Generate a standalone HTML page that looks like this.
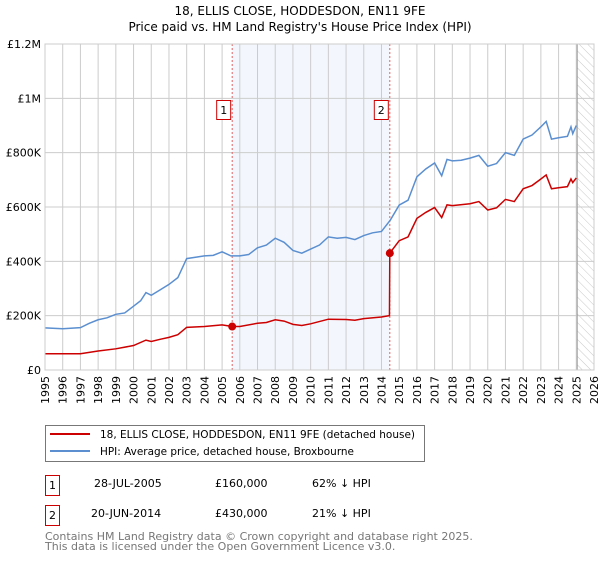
<!DOCTYPE html>
<html><head><meta charset="utf-8"><style>
body{margin:0;background:#fff;font-family:"DejaVu Sans","Liberation Sans",sans-serif;}
svg text{font-family:"DejaVu Sans","Liberation Sans",sans-serif;}
</style></head><body>
<svg id="chart" width="600" height="560" xmlns="http://www.w3.org/2000/svg">
<defs><pattern id="hatch" patternUnits="userSpaceOnUse" width="6" height="6" patternTransform="rotate(-45)"><line x1="0" y1="0" x2="0" y2="6" stroke="#bbb" stroke-width="0.8"/></pattern></defs>
<text x="300" y="15" text-anchor="middle" font-size="12">18, ELLIS CLOSE, HODDESDON, EN11 9FE</text>
<text x="300" y="31" text-anchor="middle" font-size="12">Price paid vs. HM Land Registry's House Price Index (HPI)</text>
<g id="plot"></g>
<rect x="45.5" y="425.5" width="379" height="36" fill="#fff" stroke="#777"/>
<line x1="50" y1="434" x2="90" y2="434" stroke="#cc0000" stroke-width="2"/>
<text x="100" y="438" font-size="11" textLength="315" lengthAdjust="spacingAndGlyphs">18, ELLIS CLOSE, HODDESDON, EN11 9FE (detached house)</text>
<line x1="50" y1="451" x2="90" y2="451" stroke="#5b8fd0" stroke-width="2"/>
<text x="100" y="455" font-size="11" textLength="254" lengthAdjust="spacingAndGlyphs">HPI: Average price, detached house, Broxbourne</text>
<g font-size="11">
<rect x="45.5" y="475.5" width="14" height="20" fill="#fff" stroke="#cc0000"/><text x="52.5" y="489" text-anchor="middle">1</text>
<text x="94" y="487">28-JUL-2005</text><text x="215" y="487">£160,000</text><text x="312" y="487">62% ↓ HPI</text></g>
<g font-size="11">
<rect x="45.5" y="505.5" width="14" height="20" fill="#fff" stroke="#cc0000"/><text x="52.5" y="519" text-anchor="middle">2</text>
<text x="91" y="517">20-JUN-2014</text><text x="215" y="517">£430,000</text><text x="312" y="517">21% ↓ HPI</text></g>
<text x="45" y="540" font-size="11" fill="#777">Contains HM Land Registry data © Crown copyright and database right 2025.</text>
<text x="45" y="550" font-size="11" fill="#777">This data is licensed under the Open Government Licence v3.0.</text>
</svg>
<script>
const hpiYears=[1995,1996,1997,1997.5,1998,1998.5,1999,1999.5,2000,2000.4,2000.7,2001,2001.5,2002,2002.5,2003,2003.5,2004,2004.5,2005,2005.5,2006,2006.5,2007,2007.5,2008,2008.5,2009,2009.5,2010,2010.5,2011,2011.5,2012,2012.5,2013,2013.5,2014,2014.5,2015,2015.5,2016,2016.5,2017,2017.4,2017.7,2018,2018.5,2019,2019.5,2020,2020.5,2021,2021.5,2022,2022.5,2023,2023.3,2023.6,2024,2024.5,2024.7,2024.8,2025];
const hpiValues=[155000,152000,156000,172000,185000,192000,205000,210000,235000,255000,285000,275000,295000,315000,340000,410000,415000,420000,422000,435000,420000,420000,425000,450000,460000,485000,470000,440000,430000,445000,460000,490000,485000,488000,480000,495000,505000,510000,552000,607000,625000,711000,740000,762000,715000,775000,770000,772000,780000,790000,750000,760000,800000,790000,850000,865000,895000,915000,850000,855000,860000,895000,870000,900000];
const priceYears=[1995,1997,1998,1999,2000,2000.7,2001,2001.5,2002,2002.5,2003,2004,2005,2005.57,2006,2007,2007.5,2008,2008.5,2009,2009.5,2010,2011,2012,2012.5,2013,2014,2014.45,2014.47,2015,2015.5,2016,2016.5,2017,2017.4,2017.7,2018,2019,2019.5,2020,2020.5,2021,2021.5,2022,2022.5,2023,2023.3,2023.6,2024,2024.5,2024.7,2024.8,2025];
const priceValues=[60000,60000,70000,78000,90000,110000,105000,113000,120000,130000,157000,160000,166000,160000,160000,172000,175000,185000,180000,168000,164000,170000,187000,186000,183000,189000,195000,200000,430000,476000,490000,558000,580000,598000,561000,608000,605000,612000,620000,589000,597000,628000,620000,667000,679000,703000,718000,667000,671000,675000,703000,690000,707000];
const saleYears=[2005.57,2014.47];
const saleValues=[160000,430000];
const saleLabels=["1","2"];
const yTicks=[0,200000,400000,600000,800000,1000000,1200000];
const yTickLabels=["£0","£200K","£400K","£600K","£800K","£1M","£1.2M"];
const xTicks=[];for(let y=1995;y<=2026;y++)xTicks.push(y);

const X0=45,X1=594,Y0=370,Y1=44;
const xs=t=>X0+(t-1995)/(2026-1995)*(X1-X0);
const ys=v=>Y0-v/1200000*(Y0-Y1);
const NS="http://www.w3.org/2000/svg";
const plot=document.getElementById('plot');
function mk(tag,attrs,parent){const e=document.createElementNS(NS,tag);for(const k in attrs)e.setAttribute(k,attrs[k]);(parent||plot).appendChild(e);return e;}

let r=mk('rect',{x:xs(saleYears[0]),y:Y1,width:xs(saleYears[1])-xs(saleYears[0]),height:Y0-Y1,fill:'#eef3fc',opacity:0.7});


let h=mk('rect',{x:xs(2025.05),y:Y1,width:X1-xs(2025.05),height:Y0-Y1,fill:'url(#hatch)'});


xTicks.forEach(t=>{
  mk('line',{x1:xs(t),y1:Y1,x2:xs(t),y2:Y0,stroke:'#ccc','stroke-width':1});
  const tx=mk('text',{x:0,y:0,'font-size':11,'text-anchor':'end',transform:`translate(${xs(t)+4},${Y0+6}) rotate(-90)`});
  tx.textContent=t;
  
  
});
yTicks.forEach((v,i)=>{
  mk('line',{x1:X0,y1:ys(v),x2:X1,y2:ys(v),stroke:'#ccc','stroke-width':1});
  const tx=mk('text',{x:X0-4,y:ys(v)+4,'font-size':11,'text-anchor':'end'});
  tx.textContent=yTickLabels[i];
  
  
});
mk('line',{x1:xs(2025.05),y1:Y1,x2:xs(2025.05),y2:Y0,stroke:'#999','stroke-width':1});
saleYears.forEach((t,i)=>{
  mk('line',{x1:xs(t),y1:Y1,x2:xs(t),y2:Y0,stroke:'#e06060','stroke-width':1,'stroke-dasharray':'2,2'});
  const b=mk('rect',{x:xs(t)-15.5,y:100.5,width:14,height:19,fill:'#fff',stroke:'#cc0000'});
  
  
  const tx=mk('text',{x:xs(t)-8.5,y:114,'font-size':11,'text-anchor':'middle'});
  tx.textContent=saleLabels[i];
});
const hp=mk('polyline',{points:hpiYears.map((t,i)=>xs(t)+','+ys(hpiValues[i])).join(' '),fill:'none',stroke:'#5b8fd0','stroke-width':1.5});


const pp=mk('polyline',{points:priceYears.map((t,i)=>xs(t)+','+ys(priceValues[i])).join(' '),fill:'none',stroke:'#cc0000','stroke-width':1.5});


saleYears.forEach((t,i)=>{
  const c=mk('circle',{cx:xs(t),cy:ys(saleValues[i]),r:4,fill:'#cc0000'});
  
  
});
mk('rect',{x:X0,y:Y1,width:X1-X0,height:Y0-Y1,fill:'none',stroke:'#ccc'});
</script>
</body></html>
